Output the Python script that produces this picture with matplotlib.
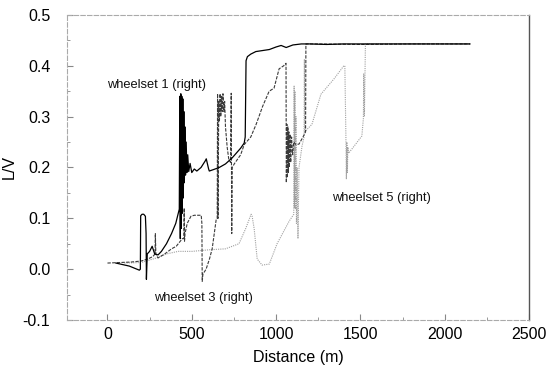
import matplotlib
matplotlib.use('Agg')
import matplotlib.pyplot as plt
from matplotlib.ticker import MultipleLocator

plt.rcParams['font.family'] = ['Liberation Sans', 'DejaVu Sans']

# wheelset 1 (right) - solid black
x1 = [50, 130, 189, 195, 197, 205, 215, 225, 229, 231, 236, 250, 265, 280, 300, 320, 350, 380, 405, 426,
      429, 432, 435, 438, 441, 444, 447, 450, 453, 456, 459, 463, 467, 471, 476, 482, 490, 500, 515, 530,
      555, 580, 586, 600, 604, 630, 663, 700, 740, 790, 811, 817, 822, 830, 850, 880, 920, 960, 1000, 1030,
      1060, 1100, 1150, 1177, 1200, 1300, 1400, 1500, 1532, 1560, 1700, 1900, 2150]
y1 = [0.012, 0.006, -0.002, 0.0, 0.105, 0.108, 0.108, 0.104, 0.07, -0.02, 0.03, 0.035, 0.045, 0.03, 0.028, 0.035, 0.05, 0.07, 0.09, 0.118,
      0.34, 0.06, 0.345, 0.08, 0.34, 0.11, 0.335, 0.14, 0.31, 0.17, 0.28, 0.185, 0.25, 0.19, 0.225, 0.192, 0.208, 0.19, 0.197, 0.193,
      0.2, 0.213, 0.217, 0.197, 0.193, 0.196, 0.2, 0.207, 0.219, 0.238, 0.248, 0.26, 0.41, 0.418, 0.423, 0.428, 0.43, 0.432, 0.437, 0.44,
      0.436, 0.441, 0.443, 0.443, 0.443, 0.442, 0.443, 0.443, 0.443, 0.443, 0.443, 0.443, 0.443]

# wheelset 3 (right) - dark grey dashed
x3 = [0, 140, 200, 240, 270, 282, 284, 287, 300, 340, 380, 408, 444, 453, 455, 457, 460, 473, 495, 515,
      556, 560, 562, 566, 585, 605, 621, 645, 651, 653, 656, 660, 664, 668, 672, 676, 680, 685, 690, 695,
      700, 710, 720, 730, 734, 737, 740, 752, 790, 811, 850, 882, 920, 959, 988, 1018, 1045, 1059, 1061, 1064,
      1067, 1070, 1073, 1076, 1079, 1083, 1087, 1092, 1098, 1105, 1118, 1136, 1160, 1175, 1177, 1250, 1500, 1800, 2150]
y3 = [0.012, 0.014, 0.016, 0.02, 0.025, 0.03, 0.07, 0.03, 0.022, 0.03, 0.04, 0.045, 0.06, 0.06, 0.12, 0.055, 0.07, 0.09, 0.104, 0.106,
      0.106, 0.09, -0.024, -0.01, 0.0, 0.02, 0.04, 0.098, 0.1, 0.345, 0.1, 0.33, 0.29, 0.345, 0.3, 0.34, 0.31, 0.345, 0.31, 0.33,
      0.28, 0.24, 0.215, 0.21, 0.346, 0.07, 0.2, 0.207, 0.225, 0.245, 0.26, 0.285, 0.32, 0.35, 0.356, 0.394, 0.4, 0.405, 0.17, 0.285,
      0.18, 0.28, 0.19, 0.27, 0.2, 0.265, 0.21, 0.26, 0.225, 0.25, 0.245, 0.246, 0.26, 0.27, 0.443, 0.443, 0.442, 0.443, 0.443]

# wheelset 5 (right) - light grey dotted
x5 = [100, 200, 250, 290, 350, 420, 503, 600, 700, 780, 820, 852, 858, 870, 888, 917, 960, 1006, 1077, 1105,
      1107, 1109, 1112, 1115, 1118, 1121, 1125, 1130, 1136, 1154, 1166, 1168, 1170, 1213, 1266, 1343, 1402, 1408, 1410, 1414,
      1417, 1420, 1423, 1426, 1430, 1470, 1509, 1518, 1520, 1524, 1530, 1700, 2150]
y5 = [0.012, 0.013, 0.018, 0.022, 0.03, 0.035, 0.035, 0.038, 0.04, 0.05, 0.08, 0.108, 0.104, 0.08, 0.02, 0.008, 0.01, 0.05, 0.094, 0.108,
      0.36, 0.12, 0.35, 0.118, 0.3, 0.09, 0.2, 0.06, 0.2, 0.242, 0.26, 0.413, 0.27, 0.285, 0.344, 0.374, 0.4, 0.4, 0.355, 0.266,
      0.177, 0.25, 0.19, 0.24, 0.228, 0.245, 0.262, 0.297, 0.384, 0.3, 0.443, 0.443, 0.443]

labels = ['wheelset 1 (right)', 'wheelset 3 (right)', 'wheelset 5 (right)']
label_pos = [(-5, 0.362), (278, -0.057), (1331, 0.14)]

fig = plt.figure(figsize=(5.47, 3.74), dpi=100)
ax = fig.add_axes([0.1225, 0.1444, 0.8445, 0.8156])

ax.plot(x5, y5, color='#a0a0a0', lw=0.8, linestyle=(0, (1, 1)))
ax.plot(x3, y3, color='#3a3a3a', lw=0.8, linestyle=(0, (3, 1.2)))
ax.plot(x1, y1, color='black', lw=0.9)

for txt, (tx, ty) in zip(labels, label_pos):
    ax.text(tx, ty, txt, fontsize=9.3, ha='left', va='center', color='#111111')

ax.set_xlim(-240, 2500)
ax.set_ylim(-0.1, 0.5)
ax.xaxis.set_major_locator(MultipleLocator(500))
ax.xaxis.set_minor_locator(MultipleLocator(250))
ax.yaxis.set_major_locator(MultipleLocator(0.1))
ax.yaxis.set_minor_locator(MultipleLocator(0.05))
ax.yaxis.set_major_formatter(plt.FuncFormatter(lambda v, p: f'{v:.1f}'))
ax.tick_params(which='both', direction='in', color='#888888', labelsize=11.5)
ax.tick_params(axis='x', pad=5)
ax.tick_params(axis='y', pad=12)
ax.tick_params(which='major', length=4)
ax.tick_params(which='minor', length=2.5)

for side in ['left', 'bottom', 'top']:
    ax.spines[side].set_color('#aaaaaa')
    ax.spines[side].set_linewidth(0.8)
    ax.spines[side].set_linestyle((0, (4, 2)))
ax.spines['right'].set_color('#555555')
ax.spines['right'].set_linewidth(1.0)

ax.set_xlabel('Distance (m)', fontsize=11.5, labelpad=6)
ax.set_ylabel('L/V', fontsize=11.5, labelpad=4)

plt.savefig('out.png', dpi=100, facecolor='white')
